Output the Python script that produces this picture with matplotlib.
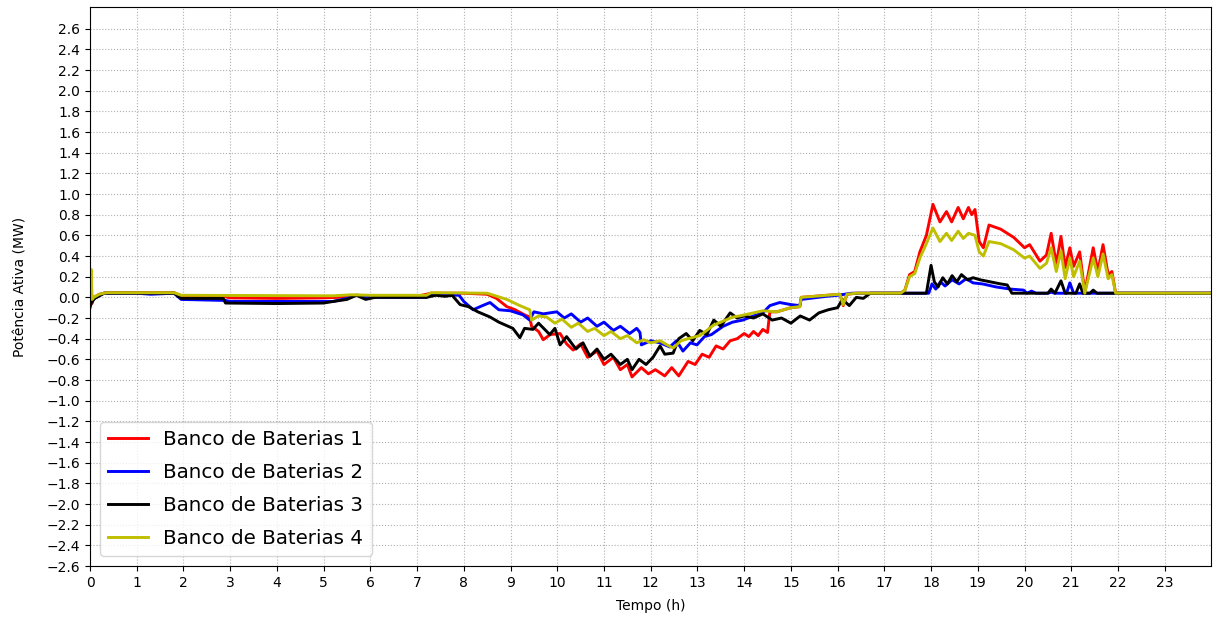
import numpy as np
import matplotlib
matplotlib.use("Agg")
import matplotlib.pyplot as plt

# Potência ativa (MW) dos bancos de baterias ao longo do dia (h)
t_b1 = [0, 0.02, 0.04, 0.08, 0.2, 0.35, 1.0, 1.8, 1.95, 2.9, 3.0, 4.0, 5.0, 5.3, 5.7, 6.0, 7.0, 7.3, 8.0,
        8.5, 8.7, 8.92, 9.1, 9.3, 9.41, 9.45, 9.6, 9.7, 9.85, 10.06, 10.2, 10.34, 10.5, 10.65, 10.85,
        11.0, 11.2, 11.35, 11.5, 11.6, 11.8, 11.95, 12.1, 12.3, 12.45, 12.6, 12.8, 12.95, 13.1, 13.25,
        13.4, 13.55, 13.7, 13.85, 14.0, 14.1, 14.2, 14.3, 14.4, 14.5, 14.55, 14.7, 15.0, 15.19, 15.22,
        15.5, 16.05, 16.12, 16.2, 16.4, 17.35, 17.44, 17.54, 17.65, 17.76, 17.9, 18.04, 18.19, 18.33,
        18.44, 18.58, 18.69, 18.8, 18.87, 18.94, 19.03, 19.12, 19.24, 19.49, 19.77, 20.0, 20.11, 20.33,
        20.47, 20.57, 20.68, 20.78, 20.87, 20.97, 21.05, 21.18, 21.29, 21.47, 21.57, 21.68, 21.79,
        21.87, 21.95, 24]
p_b1 = [0.0, 0.25, -0.06, 0.0, 0.03, 0.045, 0.045, 0.045, 0.015, 0.005, -0.005, -0.01, -0.005, 0.0, 0.02,
        0.015, 0.01, 0.04, 0.04, 0.03, -0.01, -0.09, -0.12, -0.17, -0.19, -0.28, -0.33, -0.41, -0.36,
        -0.35, -0.45, -0.51, -0.45, -0.58, -0.52, -0.65, -0.58, -0.70, -0.65, -0.77, -0.68, -0.74,
        -0.70, -0.76, -0.68, -0.76, -0.62, -0.65, -0.55, -0.58, -0.47, -0.50, -0.42, -0.40, -0.35,
        -0.38, -0.33, -0.37, -0.31, -0.34, -0.14, -0.14, -0.10, -0.09, 0.0, 0.01, 0.03, -0.08, 0.03,
        0.04, 0.04, 0.07, 0.22, 0.25, 0.44, 0.60, 0.90, 0.73, 0.83, 0.73, 0.87, 0.76, 0.87, 0.80, 0.85,
        0.54, 0.48, 0.70, 0.66, 0.58, 0.48, 0.51, 0.35, 0.41, 0.62, 0.32, 0.59, 0.29, 0.48, 0.30, 0.44,
        0.05, 0.48, 0.25, 0.51, 0.22, 0.25, 0.04, 0.04]

t_b2 = [0, 0.05, 0.3, 1.0, 1.3, 1.8, 1.95, 2.9, 3.0, 5.2, 5.5, 5.7, 6.0, 7.2, 7.3, 7.9, 8.0, 8.2, 8.4,
        8.56, 8.75, 9.0, 9.27, 9.41, 9.5, 9.7, 9.99, 10.15, 10.3, 10.5, 10.65, 10.85, 11.0, 11.2, 11.35,
        11.55, 11.7, 11.77, 11.8, 12.0, 12.2, 12.41, 12.55, 12.69, 12.85, 12.99, 13.15, 13.3, 13.55,
        13.75, 13.97, 14.2, 14.4, 14.55, 14.76, 15.0, 15.19, 15.22, 15.76, 16.0, 16.3, 17.95, 18.02,
        18.1, 18.2, 18.3, 18.45, 18.6, 18.75, 18.9, 19.1, 19.4, 19.7, 19.98, 20.05, 20.15, 20.25,
        20.5, 20.57, 20.65, 20.9, 20.97, 21.05, 24]
p_b2 = [-0.05, -0.02, 0.04, 0.04, 0.03, 0.04, -0.02, -0.03, -0.04, -0.04, -0.01, 0.02, 0.0, 0.0, 0.03,
        0.02, -0.04, -0.12, -0.08, -0.05, -0.12, -0.13, -0.17, -0.22, -0.14, -0.16, -0.14, -0.20, -0.16,
        -0.24, -0.20, -0.28, -0.24, -0.32, -0.28, -0.35, -0.30, -0.34, -0.46, -0.42, -0.44, -0.48,
        -0.42, -0.52, -0.44, -0.46, -0.38, -0.36, -0.28, -0.24, -0.22, -0.18, -0.15, -0.08, -0.05,
        -0.07, -0.08, -0.02, 0.01, 0.02, 0.04, 0.04, 0.13, 0.08, 0.15, 0.11, 0.17, 0.13, 0.18, 0.14,
        0.13, 0.10, 0.08, 0.07, 0.04, 0.06, 0.04, 0.04, 0.05, 0.04, 0.04, 0.14, 0.04, 0.04]

t_b3 = [0, 0.03, 0.1, 0.3, 1.8, 1.95, 2.85, 2.9, 4.0, 5.0, 5.2, 5.5, 5.7, 5.9, 6.1, 7.2, 7.4, 7.6,
        7.75, 7.92, 8.1, 8.3, 8.56, 8.75, 8.9, 9.05, 9.2, 9.3, 9.48, 9.6, 9.84, 9.95, 10.06, 10.2,
        10.4, 10.55, 10.7, 10.85, 11.0, 11.15, 11.35, 11.5, 11.6, 11.75, 11.9, 12.05, 12.2, 12.3,
        12.48, 12.6, 12.76, 12.9, 13.05, 13.2, 13.35, 13.5, 13.7, 13.85, 14.0, 14.2, 14.4, 14.6, 14.8,
        15.0, 15.2, 15.4, 15.6, 15.8, 16.0, 16.1, 16.25, 16.4, 16.55, 16.7, 17.9, 18.0, 18.07, 18.15,
        18.25, 18.35, 18.45, 18.55, 18.65, 18.78, 18.9, 19.05, 19.27, 19.49, 19.63, 19.73, 20.5,
        20.57, 20.65, 20.78, 20.87, 21.1, 21.18, 21.25, 21.4, 21.47, 21.55, 24]
p_b3 = [-0.10, -0.05, -0.01, 0.04, 0.04, -0.01, -0.01, -0.055, -0.06, -0.055, -0.04, -0.02, 0.02,
        -0.02, 0.0, 0.0, 0.02, 0.01, 0.02, -0.07, -0.09, -0.14, -0.19, -0.24, -0.27, -0.30, -0.39,
        -0.30, -0.31, -0.25, -0.36, -0.30, -0.46, -0.38, -0.50, -0.44, -0.57, -0.50, -0.60, -0.55,
        -0.65, -0.60, -0.70, -0.60, -0.65, -0.58, -0.47, -0.55, -0.54, -0.40, -0.35, -0.42, -0.32,
        -0.36, -0.22, -0.28, -0.15, -0.20, -0.18, -0.20, -0.16, -0.22, -0.20, -0.25, -0.18, -0.22,
        -0.15, -0.12, -0.10, -0.02, -0.08, 0.0, -0.01, 0.04, 0.04, 0.31, 0.15, 0.10, 0.19, 0.13, 0.21,
        0.15, 0.22, 0.17, 0.19, 0.17, 0.15, 0.13, 0.12, 0.04, 0.04, 0.08, 0.04, 0.16, 0.04, 0.04,
        0.13, 0.04, 0.04, 0.07, 0.04, 0.04]

t_b4 = [0, 0.025, 0.045, 0.08, 0.2, 0.35, 1.8, 1.95, 5.2, 5.6, 6.0, 7.2, 7.3, 8.5, 8.92, 9.2, 9.41, 9.45,
        9.6, 9.77, 9.95, 10.1, 10.3, 10.45, 10.65, 10.8, 11.0, 11.15, 11.35, 11.5, 11.7, 11.85, 12.0,
        12.2, 12.35, 12.48, 12.65, 12.8, 13.05, 13.2, 13.34, 13.5, 13.76, 13.9, 14.2, 14.4, 14.7,
        15.0, 15.19, 15.22, 15.5, 15.76, 16.05, 16.12, 16.2, 16.4, 17.35, 17.44, 17.54, 17.65, 17.76,
        17.9, 18.04, 18.19, 18.33, 18.44, 18.58, 18.69, 18.8, 18.94, 19.03, 19.12, 19.24, 19.49,
        19.77, 20.0, 20.11, 20.33, 20.47, 20.57, 20.68, 20.78, 20.87, 20.97, 21.05, 21.18, 21.29,
        21.47, 21.57, 21.68, 21.79, 21.87, 21.95, 24]
p_b4 = [0.0, 0.27, -0.02, 0.0, 0.03, 0.045, 0.045, 0.02, 0.015, 0.025, 0.02, 0.02, 0.045, 0.04, -0.02,
        -0.08, -0.12, -0.22, -0.18, -0.19, -0.25, -0.21, -0.29, -0.25, -0.33, -0.30, -0.37, -0.33,
        -0.40, -0.37, -0.44, -0.41, -0.44, -0.42, -0.46, -0.49, -0.42, -0.40, -0.37, -0.32, -0.27,
        -0.24, -0.19, -0.18, -0.15, -0.13, -0.14, -0.10, -0.09, 0.0, 0.01, 0.02, 0.03, -0.07, 0.03,
        0.04, 0.04, 0.07, 0.20, 0.23, 0.38, 0.52, 0.67, 0.54, 0.62, 0.55, 0.64, 0.57, 0.62, 0.60,
        0.44, 0.40, 0.54, 0.52, 0.46, 0.38, 0.40, 0.28, 0.33, 0.48, 0.25, 0.45, 0.18, 0.38, 0.20,
        0.35, 0.04, 0.38, 0.20, 0.42, 0.18, 0.22, 0.04, 0.04]

labels = ["Banco de Baterias 1", "Banco de Baterias 2", "Banco de Baterias 3", "Banco de Baterias 4"]
colors = ["#ff0000", "#0000ff", "#000000", "#bfbf00"]

fig = plt.figure(figsize=(12.13, 6.19), dpi=100)
ax = fig.add_axes([0.0742, 0.0856, 0.9245, 0.9031])

for t, p, lab, c in zip([t_b1, t_b2, t_b3, t_b4], [p_b1, p_b2, p_b3, p_b4], labels, colors):
    ax.plot(t, p, color=c, lw=2.1, label=lab)

ax.set_xlim(0, 24)
ax.set_ylim(-2.6, 2.81)
ax.set_xticks(np.arange(0, 24))
yt = np.round(np.arange(-2.6, 2.61, 0.2), 1)
ax.set_yticks(yt)
ax.set_yticklabels([f"{v:.1f}".replace("-", "\u2212") if abs(v) > 1e-9 else "0.0" for v in yt])
ax.tick_params(labelsize=10)
ax.grid(True, linestyle=":", color="#b0b0b0", linewidth=0.8)
ax.set_xlabel("Tempo (h)", fontsize=10, labelpad=7)
ax.set_ylabel("Potência Ativa (MW)", fontsize=10, labelpad=14)
ax.legend(loc="lower left", fontsize=14.3, labelspacing=0.7)

fig.savefig("out.png", dpi=100)
